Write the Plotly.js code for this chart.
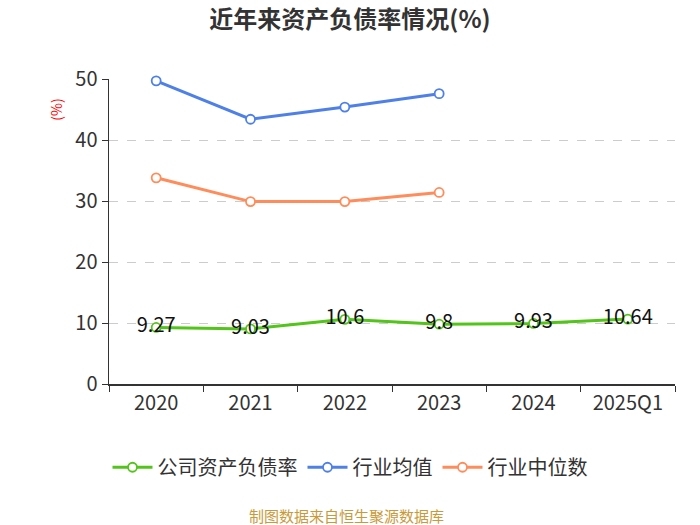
<!DOCTYPE html>
<html>
<head>
<meta charset="utf-8">
<script src="https://cdn.plot.ly/plotly-3.0.1.min.js"></script>
<style>html,body{margin:0;padding:0;background:#fff;}#chart{width:700px;height:525px;}</style>
</head>
<body>
<div id="chart"></div>
<script>
const categories = ['2020', '2021', '2022', '2023', '2024', '2025Q1'];
const companyRatio = [9.27, 9.03, 10.6, 9.8, 9.93, 10.64];
const industryAvg = [49.7, 43.4, 45.4, 47.6, null, null];
const industryMedian = [33.8, 29.9, 29.9, 31.4, null, null];
const seriesNames = ['公司资产负债率', '行业均值', '行业中位数'];
const yTicks = [0, 10, 20, 30, 40, 50];

const font = 'Noto Sans CJK SC, Noto Sans, sans-serif';

function lineTrace(y, name, color, withText) {
  const t = {
    x: categories, y: y, name: name, type: 'scatter',
    mode: withText ? 'lines+markers+text' : 'lines+markers',
    line: {color: color, width: 3},
    marker: {symbol: 'circle', size: 9, color: '#ffffff', line: {color: color, width: 1.8}},
    hoverinfo: 'none', connectgaps: false, cliponaxis: false
  };
  if (withText) {
    t.text = y.map(v => String(v));
    t.textposition = 'middle center';
    t.textfont = {size: 20, color: '#111111', family: font};
  }
  return t;
}

const data = [
  lineTrace(companyRatio, seriesNames[0], '#52c41a', true),
  lineTrace(industryAvg, seriesNames[1], '#4e80e8', false),
  lineTrace(industryMedian, seriesNames[2], '#ff8c5a', false)
];

const layout = {
  width: 700, height: 525,
  margin: {l: 109, r: 25, t: 79, b: 141},
  paper_bgcolor: '#ffffff', plot_bgcolor: '#ffffff',
  font: {family: font, color: '#333333'},
  title: {text: '<b>近年来资产负债率情况(%)</b>', x: 0.5, xanchor: 'center', y: 0.962, yanchor: 'middle', font: {size: 24, color: '#333333', family: font}},
  xaxis: {
    type: 'category', range: [-0.5, 5.5],
    tickson: 'boundaries', ticks: 'outside', ticklen: 6, tickcolor: '#333333',
    showline: true, linecolor: '#333333', linewidth: 1.5,
    showgrid: false, zeroline: false,
    tickfont: {size: 20, color: '#333333', family: font}
  },
  yaxis: {
    range: [0, 50], tickvals: yTicks, ticktext: yTicks.map(String),
    ticks: 'outside', ticklen: 6, tickcolor: '#333333',
    showline: true, linecolor: '#333333', linewidth: 1.5,
    showgrid: true, gridcolor: '#cccccc', griddash: 'dash', gridwidth: 1,
    zeroline: false,
    tickfont: {size: 20, color: '#333333', family: font}
  },
  showlegend: true,
  legend: {orientation: 'h', xref: 'container', yref: 'container', x: 0.5, xanchor: 'center', y: 0.11, yanchor: 'middle',
    font: {size: 20, color: '#333333', family: font}, itemwidth: 40, traceorder: 'normal'},
  annotations: [
    {text: '(%)', xref: 'paper', yref: 'paper', x: -0.095, y: 0.9, xanchor: 'center', yanchor: 'middle',
      textangle: -90, showarrow: false, font: {size: 14, color: '#ff0000', family: font}},
    {text: '制图数据来自恒生聚源数据库', xref: 'paper', yref: 'paper', x: 0.42, y: -0.43, xanchor: 'center', yanchor: 'middle',
      showarrow: false, font: {size: 15, color: '#c89a3a', family: font}}
  ]
};

Plotly.newPlot('chart', data, layout, {displayModeBar: false, staticPlot: true});
</script>
</body>
</html>
